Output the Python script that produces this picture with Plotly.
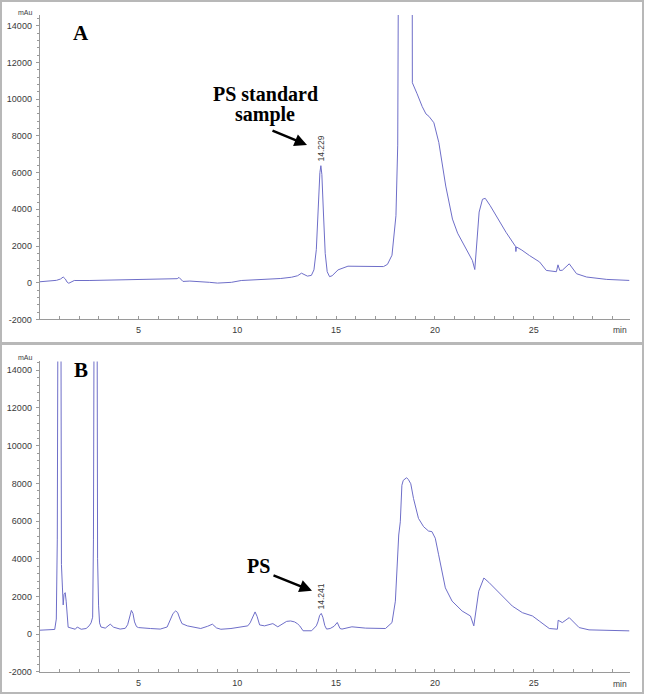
import plotly.graph_objects as go

# ---------------- data ----------------
TIME_A = [0.0, 0.4, 0.85, 1.05, 1.19, 1.3, 1.38, 1.47, 1.6, 1.75, 2.5, 3.05, 4.0, 4.75,
          5.5, 6.5, 6.96, 7.05, 7.15, 7.25, 7.6, 8.15, 8.6, 9.0, 9.4, 9.7, 10.2, 10.8,
          11.6, 12.2, 12.75, 13.05, 13.25, 13.4, 13.55, 13.75, 13.88, 14.0, 14.1, 14.18,
          14.23, 14.28, 14.36, 14.45, 14.55, 14.67, 14.8, 15.1, 15.6, 16.5, 17.4, 17.6,
          17.83, 18.03, 18.12, 18.2, 18.5, 18.84, 18.86, 19.1, 19.36, 19.55, 19.7, 19.95,
          20.2, 20.55, 20.89, 21.15, 21.4, 21.7, 21.9, 22.02, 22.12, 22.24, 22.41, 22.55,
          22.8, 23.09, 23.6, 24.08, 24.1, 24.13, 24.4, 24.79, 25.3, 25.64, 26.15, 26.23,
          26.32, 26.45, 26.8, 27.17, 27.68, 28.7, 29.85]
SIGNAL_A = [50, 80, 130, 200, 310, 200, 40, -30, 60, 120, 120, 130, 160, 180,
            190, 200, 220, 290, 150, 70, 90, 70, 20, -20, -10, 20, 120, 150,
            180, 230, 300, 380, 520, 420, 360, 400, 700, 1800, 4300, 6000,
            6380, 5900, 3800, 1600, 600, 330, 380, 700, 900, 880, 880, 1000,
            1500, 3650, 7500, 30000, 60000, 30000, 10900, 10300, 9600, 9200, 9070, 8720,
            7640, 5270, 3470, 2700, 2220, 1650, 1210, 720, 2200, 3850, 4550, 4600,
            4200, 3650, 2750, 1980, 1700, 1950, 1780, 1480, 1130, 670, 600, 975,
            670, 680, 1030, 490, 310, 180, 125]

TIME_B = [0.0, 0.4, 0.76, 0.84, 0.89, 0.93, 1.0, 1.07, 1.1, 1.15, 1.19, 1.23, 1.29, 1.34,
          1.44, 1.8, 1.9, 2.1, 2.35, 2.5, 2.6, 2.68, 2.72, 2.76, 2.83, 2.9, 2.93, 2.98,
          3.03, 3.1, 3.32, 3.57, 3.74, 4.07, 4.33, 4.45, 4.55, 4.64, 4.72, 4.8, 4.9, 5.0,
          5.6, 6.1, 6.45, 6.6, 6.75, 6.88, 6.98, 7.1, 7.2, 7.47, 8.15, 8.5, 8.74, 8.95,
          9.17, 9.68, 10.19, 10.53, 10.65, 10.78, 10.9, 11.0, 11.13, 11.38, 11.8, 12.05,
          12.3, 12.5, 12.7, 12.9, 13.05, 13.16, 13.33, 13.76, 14.0, 14.08, 14.17, 14.25,
          14.33, 14.43, 14.52, 14.7, 14.9, 15.06, 15.2, 15.3, 15.8, 16.5, 17.5, 17.83,
          18.0, 18.08, 18.17, 18.25, 18.33, 18.4, 18.57, 18.66, 18.78, 18.92, 19.17,
          19.43, 19.68, 19.85, 20.02, 20.19, 20.36, 20.53, 20.87, 21.38, 21.8, 21.97,
          22.22, 22.48, 22.73, 23.24, 23.92, 24.43, 24.94, 25.28, 25.79, 26.2, 26.24,
          26.45, 26.8, 27.3, 27.8, 29.85]
SIGNAL_B = [210, 220, 250, 800, 5000, 20000, 40000, 20000, 3700, 2500, 1550, 2100, 2200, 1750,
            370, 260, 380, 260, 300, 440, 600, 900, 5000, 20000, 40000, 20000, 4000, 1500,
            600, 380, 320, 530, 370, 270, 310, 500, 1000, 1260, 1100, 650, 400, 350,
            300, 270, 380, 700, 1100, 1230, 1150, 800, 560, 440, 300, 420, 530, 330,
            260, 300, 390, 440, 600, 950, 1180, 950, 490, 440, 560, 390,
            550, 680, 700, 650, 550, 440, 180, 180, 440, 650, 1000, 1100,
            900, 450, 270, 300, 420, 620, 300, 270, 390, 320, 300, 614,
            1750, 3500, 5260, 5960, 7900, 8160, 8300, 8200, 7980, 7190, 6140,
            5700, 5470, 5440, 5090, 4210, 3420, 2456, 1754, 1228, 965, 440,
            2280, 2980, 2750, 2190, 1490, 1140, 965, 700, 300, 263, 737,
            614, 877, 350, 228, 175]

PEAK_A = (14.229, 6380, "14.229")
PEAK_B = (14.241, 1100, "14.241")

X_TICKS = [5, 10, 15, 20, 25]
X_TICK_TEXT = ["5", "10", "15", "20", "25"]
Y_TICKS = [-2000, 0, 2000, 4000, 6000, 8000, 10000, 12000, 14000]
Y_TICK_TEXT = ["-2000", "0", "2000", "4000", "6000", "8000", "10000", "12000", "14000"]

# ---------------- figure ----------------
W, H = 645, 700
LINE = "#6e6ec8"
AX = "#9a9a9a"
TXT = "#3a3a3a"
SANS = "Liberation Sans, Arial, sans-serif"
SERIF = "Liberation Serif, Times New Roman, serif"

def px(x):
    return x / W

def py(y):
    return 1 - y / H

fig = go.Figure()
fig.add_trace(go.Scatter(x=TIME_A, y=SIGNAL_A, mode="lines", xaxis="x", yaxis="y",
                         line=dict(color=LINE, width=1), showlegend=False, hoverinfo="skip"))
fig.add_trace(go.Scatter(x=TIME_B, y=SIGNAL_B, mode="lines", xaxis="x2", yaxis="y2",
                         line=dict(color=LINE, width=1), showlegend=False, hoverinfo="skip"))

xdom = [px(39.7), px(629.5)]

def xaxis(anchor):
    return dict(domain=xdom, range=[0, 29.85], anchor=anchor, showgrid=False, zeroline=False,
                showline=True, linecolor=AX, linewidth=1,
                tickmode="array", tickvals=X_TICKS, ticktext=X_TICK_TEXT,
                ticks="inside", ticklen=3, tickcolor=AX, tickwidth=1,
                minor=dict(tickmode="linear", tick0=0, dtick=1, ticks="inside",
                           ticklen=3, tickcolor=AX, tickwidth=1),
                tickfont=dict(family=SANS, size=9, color=TXT), ticklabelstandoff=2)

def yaxis(anchor, dom, top):
    return dict(domain=dom, range=[-2000, top], anchor=anchor, showgrid=False, zeroline=False,
                showline=True, linecolor=AX, linewidth=1,
                tickmode="array", tickvals=Y_TICKS, ticktext=Y_TICK_TEXT,
                ticks="outside", ticklen=3, tickcolor=AX, tickwidth=1,
                minor=dict(tickmode="linear", tick0=0, dtick=400, ticks="outside",
                           ticklen=2, tickcolor=AX, tickwidth=1),
                tickfont=dict(family=SANS, size=9, color=TXT), ticklabelstandoff=2)

fig.update_layout(
    width=W, height=H, margin=dict(l=0, r=0, t=0, b=0),
    paper_bgcolor="white", plot_bgcolor="white",
    xaxis=xaxis("y"), yaxis=yaxis("x", [py(321.7), py(15)], 14600),
    xaxis2=xaxis("y2"), yaxis2=yaxis("x2", [py(676.7), py(364)], 14470),
)

def label(text, x, y, size, family, color="black"):
    return dict(text=text, x=px(x), y=py(y), xref="paper", yref="paper",
                xanchor="center", yanchor="middle", showarrow=False,
                font=dict(family=family, size=size, color=color))

ann = []
ann.append(label("<b>A</b>", 81, 33, 21, SERIF))
ann.append(label("<b>B</b>", 81, 373, 21, SERIF))
for yy in (13, 360):
    ann.append(label("mAu", 25, yy, 7, SANS, TXT))
for yy in (332, 689):
    ann.append(label("min", 620, yy, 8.5, SANS, TXT))
for (t, v, lab), xr, yr in ((PEAK_A, "x", "y"), (PEAK_B, "x2", "y2")):
    ann.append(dict(text=lab, x=t, y=v, xref=xr, yref=yr, textangle=-90, yshift=17,
                    xanchor="center", yanchor="middle",
                    showarrow=False, font=dict(family=SANS, size=8.5, color=TXT)))
ann.append(label("<b>PS standard</b>", 265, 95, 20, SERIF))
ann.append(label("<b>sample</b>", 265, 115, 20, SERIF))
ann.append(label("<b>PS</b>", 258, 570, 20, SERIF))
ann.append(dict(text="", x=px(307), y=py(146), xref="paper", yref="paper", showarrow=True,
                ax=-36, ay=-15, arrowhead=2, arrowsize=1, arrowwidth=2.5, arrowcolor="black"))
ann.append(dict(text="", x=px(312), y=py(595), xref="paper", yref="paper", showarrow=True,
                ax=-40, ay=-16, arrowhead=2, arrowsize=1, arrowwidth=2.5, arrowcolor="black"))
fig.update_layout(annotations=ann)

frame = "#b8b8b8"
fig.update_layout(shapes=[
    dict(type="rect", xref="paper", yref="paper", x0=px(1), x1=px(643), y0=py(698), y1=py(1),
         line=dict(color=frame, width=2)),
    dict(type="line", xref="paper", yref="paper", x0=px(1), x1=px(643), y0=py(346), y1=py(346),
         line=dict(color=frame, width=3)),
])

fig.write_html("out.html", config={"displayModeBar": False},
               post_script="document.body.style.margin='0';")
